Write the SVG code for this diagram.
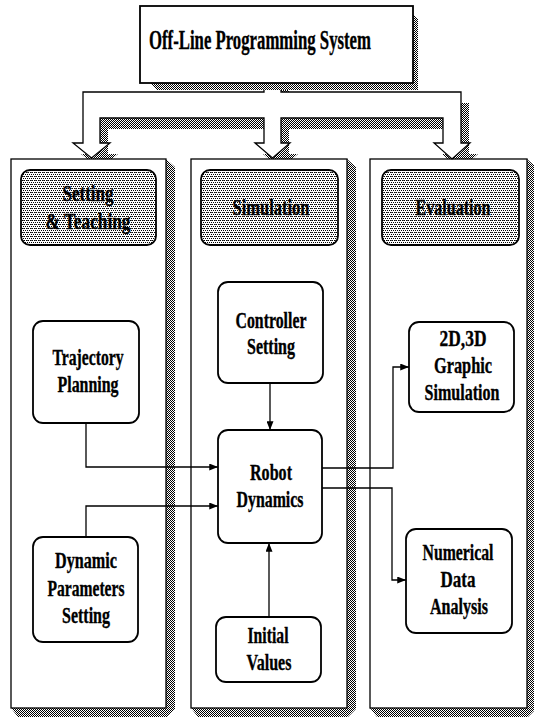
<svg xmlns="http://www.w3.org/2000/svg" width="534" height="720" viewBox="0 0 534 720">
<defs>
<pattern id="dk" width="2" height="2" patternUnits="userSpaceOnUse"><rect width="2" height="2" fill="#fff"/><rect width="1" height="1" fill="#000"/><rect x="1" y="1" width="1" height="1" fill="#000"/></pattern>
<pattern id="lt" width="4" height="4" patternUnits="userSpaceOnUse"><rect width="4" height="4" fill="#fff"/><rect width="1" height="1" fill="#000"/><rect x="2" width="1" height="1" fill="#000"/><rect x="1" y="2" width="1" height="1" fill="#000"/><rect x="3" y="2" width="1" height="1" fill="#000"/><rect x="3" y="0" width="1" height="1" fill="#555"/></pattern>
<marker id="ah" viewBox="0 0 10 8" refX="10" refY="4" markerWidth="9" markerHeight="7" markerUnits="userSpaceOnUse" orient="auto"><path d="M0,0 L10,4 L0,8 z" fill="#000"/></marker>
</defs>
<style>
text{font-family:"Liberation Serif","Times New Roman",serif;font-weight:bold;fill:#000;stroke:#000;stroke-width:0.35;text-anchor:middle;font-size:23px}
.tt{font-size:27px;text-anchor:start}
.hd{font-size:24px}
.panel{fill:#fff;stroke:#000;stroke-width:1.3}
.hdr{fill:url(#lt);stroke:#000;stroke-width:1.8}
.box{fill:#fff;stroke:#000;stroke-width:1.8}
.sh{fill:url(#dk);stroke:none}
.cn{fill:none;stroke:#000;stroke-width:1.3}
</style>
<g id="distribution-arrow">
<path class="sh" transform="translate(8,11)" d="M83,143 V92 H264 V75 H281 V92 H461 V143 H470 L452,159 L434,143 H443 V118 H281 V143 H290 L272.5,158 L255,143 H264 V118 H100 V143 H110 L91.5,158 L73,143 Z"/>
</g>
<g id="panel-setting">
<polygon class="sh" points="166,159 175,167 175,709 167,717 18,717 11,708"/>
<rect class="panel" x="11" y="159" width="155" height="549"/>
</g>
<g id="panel-simulation">
<polygon class="sh" points="347,159 356,167 356,709 348,717 198,717 191,708"/>
<rect class="panel" x="191" y="159" width="156" height="549"/>
</g>
<g id="panel-evaluation">
<polygon class="sh" points="527,159 536,167 536,709 528,717 377,717 370,708"/>
<rect class="panel" x="370" y="159" width="157" height="549"/>
</g>
<g id="distribution-arrow-front">
<path fill="#fff" stroke="#000" stroke-width="1.3" d="M83,143 V92 H264 V75 H281 V92 H461 V143 H470 L452,159 L434,143 H443 V118 H281 V143 H290 L272.5,158 L255,143 H264 V118 H100 V143 H110 L91.5,158 L73,143 Z"/>
</g>
<g id="title">
<polygon class="sh" points="150,83 413,83 413,14 418,19 418,90 157,90"/>
<rect x="140" y="6" width="273" height="77" fill="#fff" stroke="#000" stroke-width="1.8"/>
<text class="tt" x="149" y="49" textLength="222" lengthAdjust="spacingAndGlyphs">Off-Line Programming System</text>
</g>
<g id="header-setting">
<rect class="hdr" x="21" y="170" width="135" height="75" rx="9"/>
<text class="hd" x="88" y="201" textLength="51" lengthAdjust="spacingAndGlyphs">Setting</text>
<text class="hd" x="88" y="229" textLength="85" lengthAdjust="spacingAndGlyphs">&amp; Teaching</text>
</g>
<g id="header-simulation">
<rect class="hdr" x="201" y="170" width="137" height="75" rx="9"/>
<text class="hd" x="271" y="215" textLength="77" lengthAdjust="spacingAndGlyphs">Simulation</text>
</g>
<g id="header-evaluation">
<rect class="hdr" x="382" y="170" width="137" height="75" rx="9"/>
<text class="hd" x="453" y="215" textLength="75" lengthAdjust="spacingAndGlyphs">Evaluation</text>
</g>
<g id="trajectory-planning">
<rect class="box" x="33" y="321" width="106" height="102" rx="10"/>
<text x="88" y="365" textLength="71" lengthAdjust="spacingAndGlyphs">Trajectory</text>
<text x="88" y="392" textLength="61" lengthAdjust="spacingAndGlyphs">Planning</text>
</g>
<g id="dynamic-parameters">
<rect class="box" x="33" y="537" width="105" height="105" rx="10"/>
<text x="86" y="568" textLength="62" lengthAdjust="spacingAndGlyphs">Dynamic</text>
<text x="86" y="596" textLength="77" lengthAdjust="spacingAndGlyphs">Parameters</text>
<text x="86" y="623" textLength="48" lengthAdjust="spacingAndGlyphs">Setting</text>
</g>
<g id="controller-setting">
<rect class="box" x="218" y="282" width="105" height="101" rx="10"/>
<text x="271" y="328" textLength="71" lengthAdjust="spacingAndGlyphs">Controller</text>
<text x="271" y="354" textLength="48" lengthAdjust="spacingAndGlyphs">Setting</text>
</g>
<g id="robot-dynamics">
<rect class="box" x="218" y="430" width="104" height="113" rx="10"/>
<text x="271" y="480" textLength="42" lengthAdjust="spacingAndGlyphs">Robot</text>
<text x="270" y="507" textLength="67" lengthAdjust="spacingAndGlyphs">Dynamics</text>
</g>
<g id="initial-values">
<rect class="box" x="216" y="617" width="105" height="65" rx="10"/>
<text x="268" y="643" textLength="41" lengthAdjust="spacingAndGlyphs">Initial</text>
<text x="269" y="670" textLength="45" lengthAdjust="spacingAndGlyphs">Values</text>
</g>
<g id="graphic-simulation">
<rect class="box" x="409" y="322" width="105" height="90" rx="10"/>
<text x="463" y="346" textLength="47" lengthAdjust="spacingAndGlyphs">2D,3D</text>
<text x="463" y="373" textLength="58" lengthAdjust="spacingAndGlyphs">Graphic</text>
<text x="462" y="400" textLength="75" lengthAdjust="spacingAndGlyphs">Simulation</text>
</g>
<g id="numerical-analysis">
<rect class="box" x="406" y="529" width="106" height="104" rx="10"/>
<text x="458" y="560" textLength="71" lengthAdjust="spacingAndGlyphs">Numerical</text>
<text x="458" y="587" textLength="35" lengthAdjust="spacingAndGlyphs">Data</text>
<text x="459" y="614" textLength="58" lengthAdjust="spacingAndGlyphs">Analysis</text>
</g>
<g id="connectors">
<path class="cn" d="M86,423 V467 H218" marker-end="url(#ah)"/>
<path class="cn" d="M86,537 V506 H218" marker-end="url(#ah)"/>
<path class="cn" d="M270,383 V430" marker-end="url(#ah)"/>
<path class="cn" d="M269,617 V543" marker-end="url(#ah)"/>
<path class="cn" d="M322,468 H393 V367 H409" marker-end="url(#ah)"/>
<path class="cn" d="M322,488 H392 V580 H406" marker-end="url(#ah)"/>
</g>
</svg>
